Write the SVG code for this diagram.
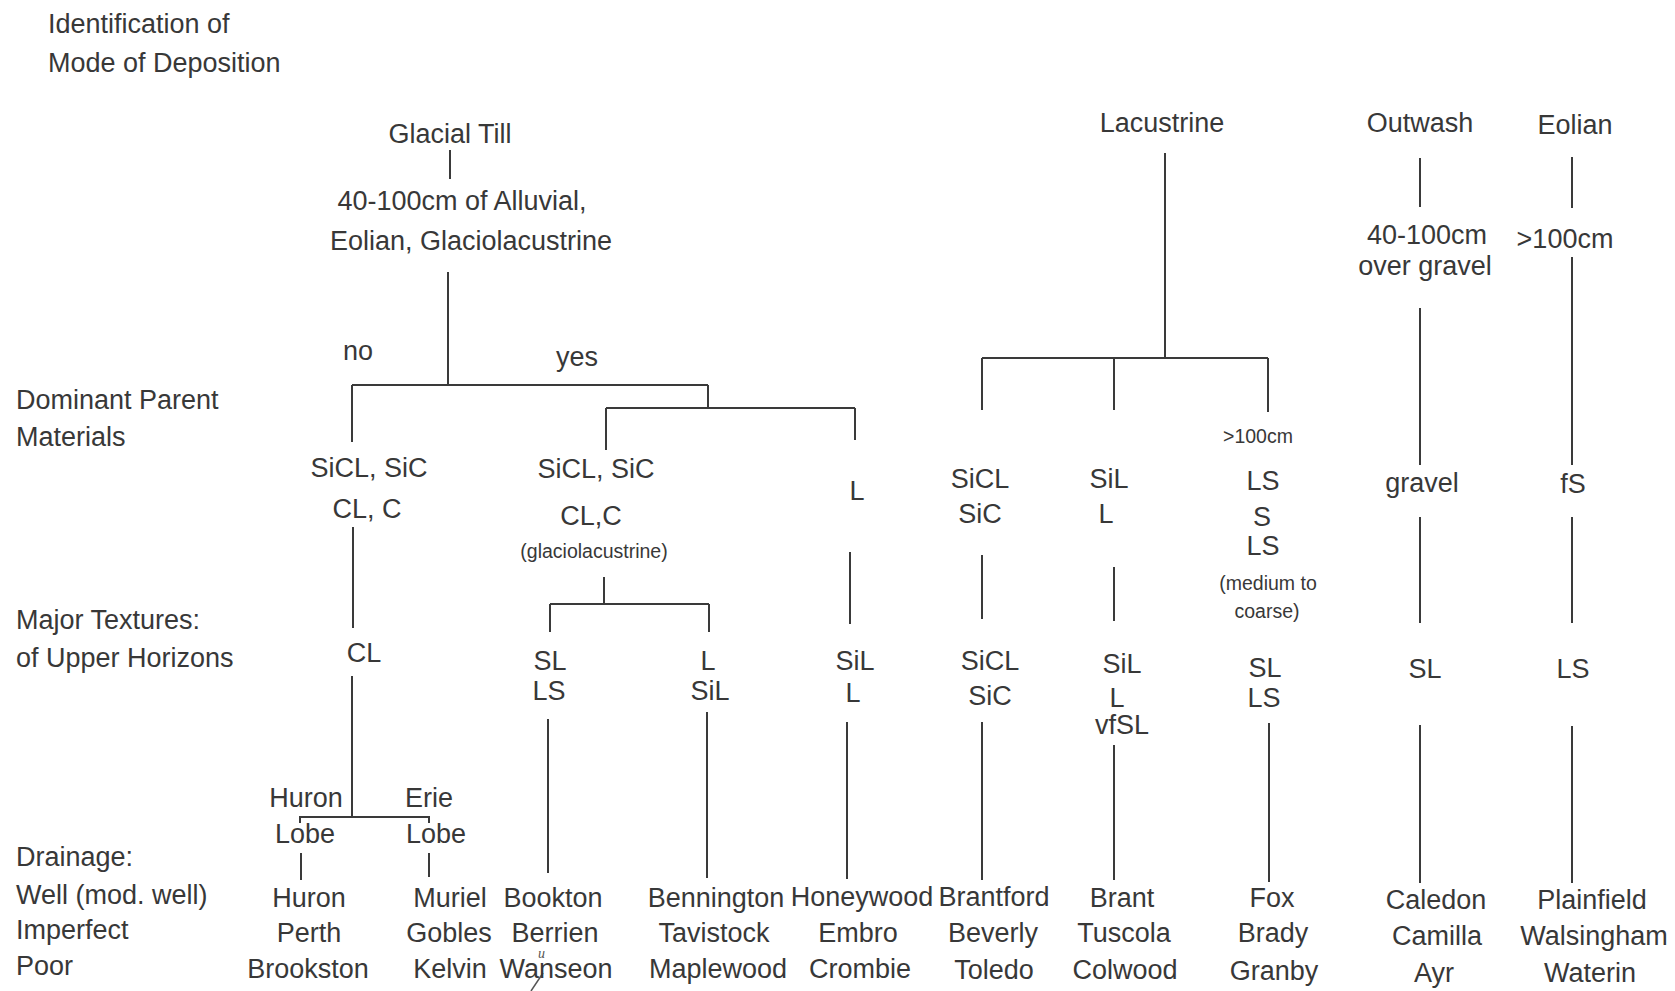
<svg xmlns="http://www.w3.org/2000/svg" width="1675" height="991" viewBox="0 0 1675 991">
<style>
text{font-family:"Liberation Sans",Arial,Helvetica,sans-serif;font-size:27px;fill:#383838}
.c{text-anchor:middle}
.s{font-size:19.5px}
.hand{font-family:"Liberation Serif",serif;font-style:italic;font-size:14px;fill:#555}
#connectors line,#connectors path{stroke:#3a3a3a;stroke-width:2;fill:none}
</style>
<rect width="1675" height="991" fill="#fff"/>
<g id="row-labels">
<text x="48" y="33">Identification of</text>
<text x="48" y="72">Mode of Deposition</text>
<text x="16" y="409">Dominant Parent</text>
<text x="16" y="446">Materials</text>
<text x="16" y="629">Major Textures:</text>
<text x="16" y="667">of Upper Horizons</text>
<text x="16" y="866">Drainage:</text>
<text x="16" y="904">Well (mod. well)</text>
<text x="16" y="939">Imperfect</text>
<text x="16" y="975">Poor</text>
</g>
<g id="connectors">
<line x1="450" y1="150" x2="450" y2="179"/>
<line x1="448" y1="272" x2="448" y2="385"/>
<line x1="352" y1="385" x2="708" y2="385"/>
<line x1="352" y1="385" x2="352" y2="442"/>
<line x1="708" y1="385" x2="708" y2="408"/>
<line x1="606" y1="408" x2="855" y2="408"/>
<line x1="606" y1="408" x2="606" y2="450"/>
<line x1="855" y1="408" x2="855" y2="440"/>
<line x1="353" y1="527" x2="353" y2="628"/>
<line x1="604" y1="577" x2="604" y2="604"/>
<line x1="550" y1="604" x2="709" y2="604"/>
<line x1="550" y1="604" x2="550" y2="632"/>
<line x1="709" y1="604" x2="709" y2="632"/>
<line x1="850" y1="552" x2="850" y2="624"/>
<line x1="352" y1="676" x2="352" y2="817"/>
<path d="M300 823 V817 H429 V823"/>
<line x1="301" y1="853" x2="301" y2="880"/>
<line x1="429" y1="853" x2="429" y2="877"/>
<line x1="548" y1="719" x2="548" y2="873"/>
<line x1="707" y1="712" x2="707" y2="878"/>
<line x1="847" y1="722" x2="847" y2="879"/>
<line x1="1165" y1="153" x2="1165" y2="358"/>
<line x1="982" y1="358" x2="1268" y2="358"/>
<line x1="982" y1="358" x2="982" y2="410"/>
<line x1="1114" y1="358" x2="1114" y2="410"/>
<line x1="1268" y1="358" x2="1268" y2="412"/>
<line x1="982" y1="555" x2="982" y2="619"/>
<line x1="982" y1="722" x2="982" y2="880"/>
<line x1="1114" y1="567" x2="1114" y2="621"/>
<line x1="1114" y1="745" x2="1114" y2="880"/>
<line x1="1269" y1="723" x2="1269" y2="882"/>
<line x1="1420" y1="158" x2="1420" y2="207"/>
<line x1="1420" y1="308" x2="1420" y2="465"/>
<line x1="1420" y1="517" x2="1420" y2="623"/>
<line x1="1420" y1="725" x2="1420" y2="883"/>
<line x1="1572" y1="157" x2="1572" y2="208"/>
<line x1="1572" y1="257" x2="1572" y2="465"/>
<line x1="1572" y1="517" x2="1572" y2="623"/>
<line x1="1572" y1="726" x2="1572" y2="883"/>
<path d="M531 991 L543 973" style="stroke:#555;stroke-width:1.5"/>
</g>
<g id="glacial-till"><text class="c" x="450" y="143">Glacial Till</text></g>
<g id="glacial-overlay"><text class="c" x="462" y="210">40-100cm of Alluvial,</text><text class="c" x="471" y="250">Eolian, Glaciolacustrine</text></g>
<g id="no-label"><text class="c" x="358" y="360">no</text></g>
<g id="yes-label"><text class="c" x="577" y="366">yes</text></g>
<g id="lacustrine"><text class="c" x="1162" y="132">Lacustrine</text></g>
<g id="outwash"><text class="c" x="1420" y="132">Outwash</text></g>
<g id="eolian"><text class="c" x="1575" y="134">Eolian</text></g>
<g id="outwash-depth"><text class="c" x="1427" y="244">40-100cm</text><text class="c" x="1425" y="275">over gravel</text></g>
<g id="eolian-depth"><text class="c" x="1565" y="248">&gt;100cm</text></g>

<g id="pm-no"><text class="c" x="369" y="477">SiCL, SiC</text><text class="c" x="367" y="518">CL, C</text></g>
<g id="pm-glacio"><text class="c" x="596" y="478">SiCL, SiC</text><text class="c" x="591" y="525">CL,C</text><text class="c s" x="594" y="558">(glaciolacustrine)</text></g>
<g id="pm-loam"><text class="c" x="857" y="500">L</text></g>
<g id="pm-lac-clay"><text class="c" x="980" y="488">SiCL</text><text class="c" x="980" y="523">SiC</text></g>
<g id="pm-lac-silt"><text class="c" x="1109" y="488">SiL</text><text class="c" x="1106" y="523">L</text></g>
<g id="pm-lac-sand"><text class="c s" x="1258" y="443">&gt;100cm</text><text class="c" x="1263" y="490">LS</text><text class="c" x="1262" y="526">S</text><text class="c" x="1263" y="555">LS</text><text class="c s" x="1268" y="590">(medium to</text><text class="c s" x="1267" y="618">coarse)</text></g>
<g id="pm-gravel"><text class="c" x="1422" y="492">gravel</text></g>
<g id="pm-fs"><text class="c" x="1573" y="493">fS</text></g>

<g id="tx-cl"><text class="c" x="364" y="662">CL</text></g>
<g id="tx-sl-ls"><text class="c" x="550" y="670">SL</text><text class="c" x="549" y="700">LS</text></g>
<g id="tx-l-sil"><text class="c" x="708" y="670">L</text><text class="c" x="710" y="700">SiL</text></g>
<g id="tx-sil-l"><text class="c" x="855" y="670">SiL</text><text class="c" x="853" y="702">L</text></g>
<g id="tx-sicl-sic"><text class="c" x="990" y="670">SiCL</text><text class="c" x="990" y="705">SiC</text></g>
<g id="tx-sil-l-vfsl"><text class="c" x="1122" y="673">SiL</text><text class="c" x="1117" y="707">L</text><text class="c" x="1122" y="734">vfSL</text></g>
<g id="tx-sl-ls-2"><text class="c" x="1265" y="677">SL</text><text class="c" x="1264" y="707">LS</text></g>
<g id="tx-sl"><text class="c" x="1425" y="678">SL</text></g>
<g id="tx-ls"><text class="c" x="1573" y="678">LS</text></g>

<g id="huron-lobe"><text class="c" x="306" y="807">Huron</text><text class="c" x="305" y="843">Lobe</text></g>
<g id="erie-lobe"><text class="c" x="429" y="807">Erie</text><text class="c" x="436" y="843">Lobe</text></g>

<g id="dr-huron"><text class="c" x="309" y="907">Huron</text><text class="c" x="309" y="942">Perth</text><text class="c" x="308" y="978">Brookston</text></g>
<g id="dr-muriel"><text class="c" x="450" y="907">Muriel</text><text class="c" x="449" y="942">Gobles</text><text class="c" x="450" y="978">Kelvin</text></g>
<g id="dr-bookton"><text class="c" x="553" y="907">Bookton</text><text class="c" x="555" y="942">Berrien</text><text class="c" x="556" y="978">Wanseon</text><text class="hand" x="538" y="958">u</text></g>
<g id="dr-bennington"><text class="c" x="716" y="907">Bennington</text><text class="c" x="714" y="942">Tavistock</text><text class="c" x="718" y="978">Maplewood</text></g>
<g id="dr-honeywood"><text class="c" x="862" y="906">Honeywood</text><text class="c" x="858" y="942">Embro</text><text class="c" x="860" y="978">Crombie</text></g>
<g id="dr-brantford"><text class="c" x="994" y="906">Brantford</text><text class="c" x="993" y="942">Beverly</text><text class="c" x="994" y="979">Toledo</text></g>
<g id="dr-brant"><text class="c" x="1122" y="907">Brant</text><text class="c" x="1124" y="942">Tuscola</text><text class="c" x="1125" y="979">Colwood</text></g>
<g id="dr-fox"><text class="c" x="1272" y="907">Fox</text><text class="c" x="1273" y="942">Brady</text><text class="c" x="1274" y="980">Granby</text></g>
<g id="dr-caledon"><text class="c" x="1436" y="909">Caledon</text><text class="c" x="1437" y="945">Camilla</text><text class="c" x="1434" y="982">Ayr</text></g>
<g id="dr-plainfield"><text class="c" x="1592" y="909">Plainfield</text><text class="c" x="1594" y="945">Walsingham</text><text class="c" x="1590" y="982">Waterin</text></g>
</svg>
